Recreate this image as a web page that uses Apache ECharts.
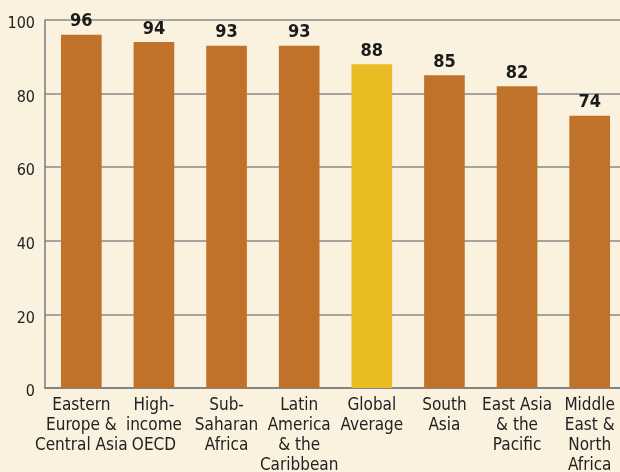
<!DOCTYPE html>
<html>
<head>
<meta charset="utf-8">
<script src="https://cdn.jsdelivr.net/npm/echarts@6/dist/echarts.min.js"></script>
<style>
  html, body { margin: 0; padding: 0; background: #FAF1DE; }
  #chart { width: 620px; height: 472px; }
</style>
</head>
<body>
<div id="chart"></div>
<script>
// categories and values
const regions = [
    'Eastern\nEurope &\nCentral Asia',
    'High-\nincome\nOECD',
    'Sub-\nSaharan\nAfrica',
    'Latin\nAmerica\n& the\nCaribbean',
    'Global\nAverage',
    'South\nAsia',
    'East Asia\n& the\nPacific',
    'Middle\nEast &\nNorth\nAfrica'
];
const shares = [96, 94, 93, 93, 88, 85, 82, 74];
const highlight = 'Global\nAverage';

const barColor = '#C0722B';
const avgColor = '#E8BC22';
const font = '"Liberation Sans Narrow", "DejaVu Sans Condensed", sans-serif';

const chart = echarts.init(document.getElementById('chart'));

chart.setOption({
    backgroundColor: '#FAF1DE',
    animation: false,
    grid: { left: 45, right: -6, top: 20, bottom: 84, outerBoundsMode: 'none', containLabel: false },
    xAxis: {
        type: 'category',
        data: regions,
        axisLine: { lineStyle: { color: '#7a7a7a', width: 1.5 } },
        axisTick: { inside: true, length: 8, lineStyle: { color: '#7a7a7a', width: 1.5 } },
        axisLabel: {
            color: '#222',
            fontFamily: font,
            fontSize: 17,
            lineHeight: 20,
            margin: 8,
            interval: 0
        }
    },
    yAxis: {
        type: 'value',
        min: 0,
        max: 100,
        interval: 20,
        axisLine: { show: true, lineStyle: { color: '#7a7a7a', width: 1.5 } },
        axisTick: { show: false },
        axisLabel: {
            color: '#222', fontFamily: font, fontSize: 16, margin: 10,
            verticalAlign: 'top', lineHeight: 8
        },
        splitLine: { lineStyle: { color: '#8a8a8a', width: 1.5 } }
    },
    series: [{
        type: 'bar',
        barWidth: '56%',
        data: shares.map((v, i) => ({
            value: v,
            itemStyle: { color: regions[i] === highlight ? avgColor : barColor }
        })),
        label: {
            show: true,
            position: 'top',
            distance: 4,
            color: '#1a1a1a',
            fontFamily: font,
            fontWeight: 'bold',
            fontSize: 18
        }
    }]
});
</script>
</body>
</html>
